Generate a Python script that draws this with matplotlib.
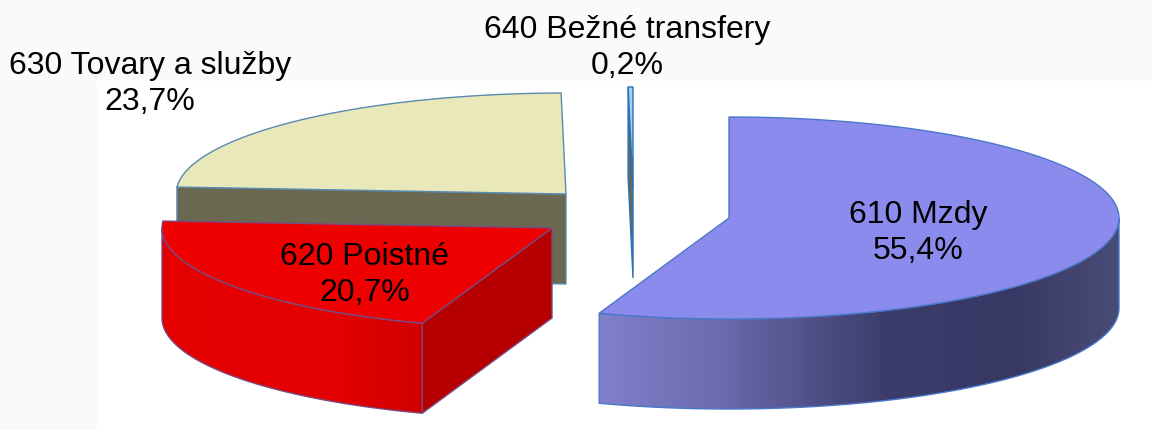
import numpy as np
import matplotlib
matplotlib.use("Agg")
import matplotlib.pyplot as plt
from matplotlib.patches import Polygon, Rectangle
from matplotlib.colors import LinearSegmentedColormap

# --- data ---
categories = ["610 Mzdy", "620 Poistné", "630 Tovary a služby", "640 Bežné transfery"]
shares = [55.4, 20.7, 23.7, 0.2]
share_labels = ["55,4%", "20,7%", "23,7%", "0,2%"]

# --- layout (pixels of the 1152x430 picture) ---
centers = [(729, 218), (552, 228), (566, 194), (633, 188)]
label_pos = [(918, 233), (365, 275), (150, 84), (627, 48)]
rx, ry, depth = 390, 101, 90

top_colors = ["#8b8bee", "#ee0000", "#e9e8ba", "#9fd0ea"]
cut_colors = ["#6a6850", "#b60000", "#6a6850", "#6a6850"]
edge_colors = ["#4a78c8", "#7a4a80", "#5a8ab0", "#2a70b8"]

wall_610 = [(0.0, "#8080cc"), (0.22, "#6c6cb0"), (0.55, "#3c3c6c"), (0.8, "#383864"), (1.0, "#4a4c78")]
wall_620 = [(0.0, "#e60000"), (0.7, "#e20000"), (1.0, "#d00000")]


def rim(center, theta):
    # theta in degrees, clockwise from the top of the pie
    t = np.radians(theta)
    return np.column_stack([center[0] + rx * np.sin(t), center[1] - ry * np.cos(t)])


def draw_wall(ax, pts, stops, z):
    # side wall with a left to right gradient, clipped to the outline
    outline = np.vstack([pts, (pts + [0, depth])[::-1]])
    poly = Polygon(outline, closed=True, facecolor="none", edgecolor="none", zorder=z)
    ax.add_patch(poly)
    cmap = LinearSegmentedColormap.from_list("wall", stops)
    x0, x1 = outline[:, 0].min(), outline[:, 0].max()
    y0, y1 = outline[:, 1].min(), outline[:, 1].max()
    im = ax.imshow(np.linspace(0, 1, 256)[None, :], cmap=cmap, extent=(x0, x1, y1, y0),
                   aspect="auto", zorder=z, interpolation="bilinear")
    im.set_clip_path(poly)


fig = plt.figure(figsize=(11.52, 4.30), dpi=100, facecolor="#fbfaf8")
ax = fig.add_axes([0, 0, 1, 1])
ax.set_axis_off()

# white panel behind the pie
ax.add_patch(Rectangle((97, 81), 1055, 349, facecolor="white", edgecolor="none", zorder=0))

ends = np.cumsum(shares) / np.sum(shares) * 360
starts = np.concatenate([[0], ends[:-1]])

# back to front: 630, 640, 610, 620
for z, i in enumerate([2, 3, 0, 1]):
    base = 10 * (z + 1)
    c = centers[i]
    a0, a1 = starts[i], ends[i]
    arc = rim(c, np.linspace(a0, a1, 200))
    vertex = np.array([c])

    # cut face on the start side
    if 180 < a0 < 360:
        p = rim(c, np.array([a0]))
        face = np.vstack([vertex, p, p + [0, depth], vertex + [0, depth]])
        ax.add_patch(Polygon(face, closed=True, facecolor=cut_colors[i], edgecolor=edge_colors[i],
                             linewidth=1.0, zorder=base))

    # outer wall, only the front half of the rim shows
    w0, w1 = max(a0, 90), min(a1, 270)
    if w0 < w1:
        pts = rim(c, np.linspace(w0, w1, 200))
        draw_wall(ax, pts, wall_610 if i == 0 else wall_620, base + 1)
        outline = np.vstack([pts, (pts + [0, depth])[::-1]])
        ax.add_patch(Polygon(outline, closed=True, facecolor="none", edgecolor=edge_colors[i],
                             linewidth=1.0, zorder=base + 2))

    # top face
    ax.add_patch(Polygon(np.vstack([vertex, arc]), closed=True, facecolor=top_colors[i],
                         edgecolor=edge_colors[i], linewidth=1.0, zorder=base + 3))

font = ["Liberation Sans", "DejaVu Sans"]
for name, share, (x, y) in zip(categories, share_labels, label_pos):
    ax.text(x, y, name + "\n" + share, ha="center", va="center", fontsize=23,
            family=font, color="black", linespacing=1.25, zorder=100)

ax.set_xlim(0, 1152)
ax.set_ylim(430, 0)
fig.savefig("out.png", dpi=100, facecolor=fig.get_facecolor())
